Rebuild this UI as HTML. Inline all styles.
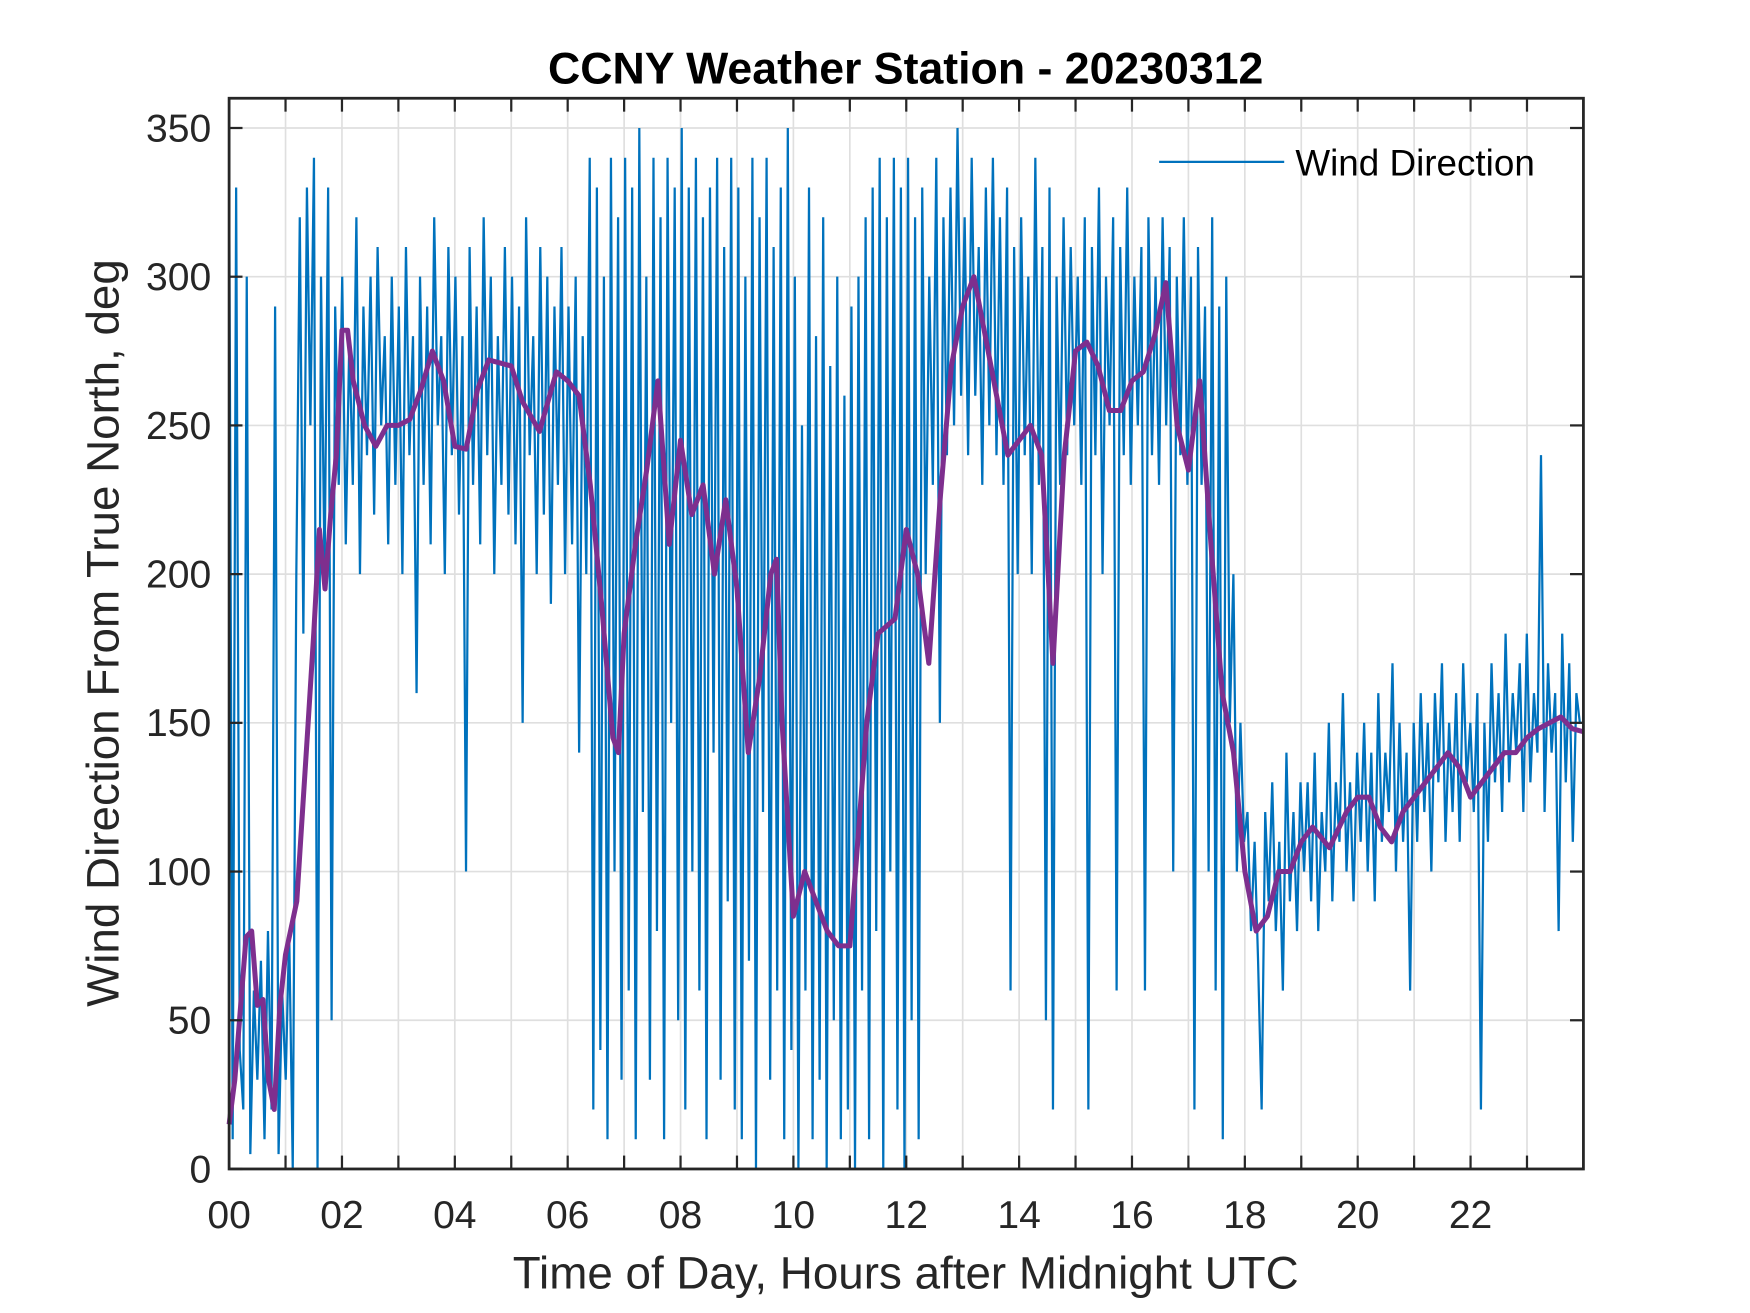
<!DOCTYPE html>
<html><head><meta charset="utf-8"><style>
html,body{margin:0;padding:0;background:#fff;}
svg{display:block;}
text{font-family:"Liberation Sans",Arial,sans-serif;}
</style></head><body>
<svg id="chart" width="1750" height="1313" viewBox="0 0 1567 1176" xmlns="http://www.w3.org/2000/svg">
<rect width="1567" height="1176" fill="#fff"/>
<g id="grid"></g>
<g id="series"></g>
<g id="axes"></g>
<text x="811" y="75" font-size="40" font-weight="bold" text-anchor="middle" fill="#000">CCNY Weather Station - 20230312</text>
<text x="811" y="1154" font-size="41" text-anchor="middle" fill="#262626">Time of Day, Hours after Midnight UTC</text>
<text transform="translate(106,567) rotate(-90)" font-size="41" text-anchor="middle" fill="#262626">Wind Direction From True North, deg</text>
<g>
<line x1="1038" y1="145" x2="1150" y2="145" stroke="#0072BD" stroke-width="2"/>
<text x="1160" y="157" font-size="33" fill="#000">Wind Direction</text>
</g>
</svg>
<script>
const xTickLabels=["00","02","04","06","08","10","12","14","16","18","20","22"];
const yTickValues=[0,50,100,150,200,250,300,350];
const windRaw=[
340,10,330,40,20,300,5,60,30,70,10,80,20,290,5,60,
30,80,0,200,320,180,330,250,340,0,300,200,330,50,290,230,
300,210,280,230,320,200,290,240,300,220,310,250,280,210,300,230,
290,200,310,240,280,160,300,230,290,210,320,250,280,200,310,240,
300,220,280,100,310,230,290,210,320,240,300,200,280,230,310,220,
300,210,290,150,320,240,280,200,310,220,300,190,290,230,310,200,
290,210,300,140,280,200,340,20,330,40,300,10,340,100,320,30,
340,60,330,10,350,120,300,30,340,80,320,10,340,150,330,50,
350,20,330,100,340,60,320,10,330,140,340,30,310,90,340,20,
330,10,300,70,340,0,320,120,340,30,310,60,330,10,350,40,
300,0,250,60,330,10,280,30,320,0,270,50,300,10,260,20,
290,0,300,60,320,10,330,80,340,0,320,100,340,20,330,0,
340,50,320,10,330,200,300,230,340,150,320,240,330,250,350,260,
320,240,340,260,310,230,330,250,340,240,320,230,330,60,310,200,
320,240,300,200,340,230,310,50,330,20,300,230,320,240,310,250,
300,230,320,20,310,240,330,200,300,250,320,60,310,240,330,230,
300,250,310,60,320,240,300,230,320,250,310,100,300,240,320,230,
300,20,310,230,290,100,320,60,290,10,300,150,200,100,150,110,
120,80,110,70,20,120,90,130,80,110,60,140,90,120,80,130,
100,130,90,140,80,120,100,150,90,130,110,160,100,130,90,140,
110,150,100,140,90,160,110,140,120,170,100,150,110,140,60,150,
110,160,120,150,100,160,130,170,110,150,120,160,110,170,130,150,
120,160,20,150,110,170,130,160,120,180,130,160,140,170,120,180,
130,160,140,240,120,170,140,160,80,180,130,170,110,160,150,150];
const avgHours=[0,0.1,0.3,0.4,0.5,0.6,0.7,0.8,0.9,1.0,1.2,1.4,1.5,1.6,1.7,1.8,1.9,2.0,2.1,2.2,2.4,2.6,2.8,3.0,3.2,3.4,3.6,3.8,4.0,4.2,4.4,4.6,5.0,5.2,5.5,5.8,6.0,6.2,6.4,6.6,6.8,6.9,7.0,7.2,7.4,7.6,7.8,8.0,8.2,8.4,8.6,8.8,9.0,9.2,9.4,9.6,9.7,9.8,10.0,10.2,10.4,10.6,10.8,11.0,11.1,11.3,11.5,11.8,12.0,12.2,12.4,12.6,12.8,13.0,13.2,13.4,13.6,13.8,14.0,14.2,14.4,14.6,14.8,15.0,15.2,15.4,15.6,15.8,16.0,16.2,16.4,16.6,16.8,17.0,17.2,17.4,17.6,17.8,18.0,18.2,18.4,18.6,18.8,19.0,19.2,19.5,19.8,20.0,20.2,20.4,20.6,20.8,21.0,21.2,21.4,21.6,21.8,22.0,22.2,22.4,22.6,22.8,23.0,23.2,23.4,23.6,23.8,24];
const avgValues=[15,30,78,80,55,57,30,20,55,72,90,150,180,215,195,220,240,282,282,265,250,243,250,250,252,262,275,265,243,242,262,272,270,258,248,268,265,260,230,190,145,140,180,210,235,265,210,245,220,230,200,225,195,140,165,200,205,150,85,100,90,80,75,75,100,150,180,185,215,200,170,225,270,290,300,280,260,240,245,250,240,170,240,275,278,270,255,255,265,268,280,298,250,235,265,210,160,140,100,80,85,100,100,110,115,108,120,125,125,115,110,120,125,130,135,140,135,125,130,135,140,140,145,148,150,152,148,147];

const L=205,R=1418,T=88,B=1047;
const xs=h=>L+(R-L)*h/24;
const ys=v=>B-(B-T)*v/360;
const NS="http://www.w3.org/2000/svg";
function mk(tag,attrs,parent){const e=document.createElementNS(NS,tag);for(const k in attrs)e.setAttribute(k,attrs[k]);parent.appendChild(e);return e;}
const grid=document.getElementById('grid'),axes=document.getElementById('axes'),series=document.getElementById('series');
for(let h=1;h<24;h++){
  const g=mk('line',{x1:xs(h),x2:xs(h),y1:T,y2:B,stroke:'#dfdfdf','stroke-width':1.5},grid);
  
  
  const t1=mk('line',{x1:xs(h),x2:xs(h),y1:B,y2:B-12,stroke:'#262626','stroke-width':2},axes);
  
  
  const t2=mk('line',{x1:xs(h),x2:xs(h),y1:T,y2:T+12,stroke:'#262626','stroke-width':2},axes);
  
  
}
xTickLabels.forEach((lab,i)=>{
  const t=mk('text',{x:xs(i*2),y:B+53,'font-size':35,'text-anchor':'middle',fill:'#262626'},axes);
  t.textContent=lab;
  
  
});
yTickValues.forEach(v=>{
  if(v>0){const g=mk('line',{x1:L,x2:R,y1:ys(v),y2:ys(v),stroke:'#dfdfdf','stroke-width':1.5},grid);
  
  }
  const t1=mk('line',{x1:L,x2:L+12,y1:ys(v),y2:ys(v),stroke:'#262626','stroke-width':2},axes);
  
  
  const t2=mk('line',{x1:R,x2:R-12,y1:ys(v),y2:ys(v),stroke:'#262626','stroke-width':2},axes);
  
  
  const t=mk('text',{x:L-16,y:ys(v)+12,'font-size':35,'text-anchor':'end',fill:'#262626'},axes);
  t.textContent=v;
  
  
});
const box=mk('rect',{x:L,y:T,width:R-L,height:B-T,fill:'none',stroke:'#262626','stroke-width':2.5},axes);


const n=windRaw.length;
const wp=windRaw.map((v,i)=>xs(24*i/(n-1)).toFixed(1)+','+ys(v).toFixed(1)).join(' ');
const wl=mk('polyline',{points:wp,fill:'none',stroke:'#0072BD','stroke-width':2,'stroke-linejoin':'miter'},series);


const ap=avgHours.map((h,i)=>xs(h).toFixed(1)+','+ys(avgValues[i]).toFixed(1)).join(' ');
const al=mk('polyline',{points:ap,fill:'none',stroke:'#7E2F8E','stroke-width':4.5,'stroke-linejoin':'round'},series);


</script>
</body></html>
